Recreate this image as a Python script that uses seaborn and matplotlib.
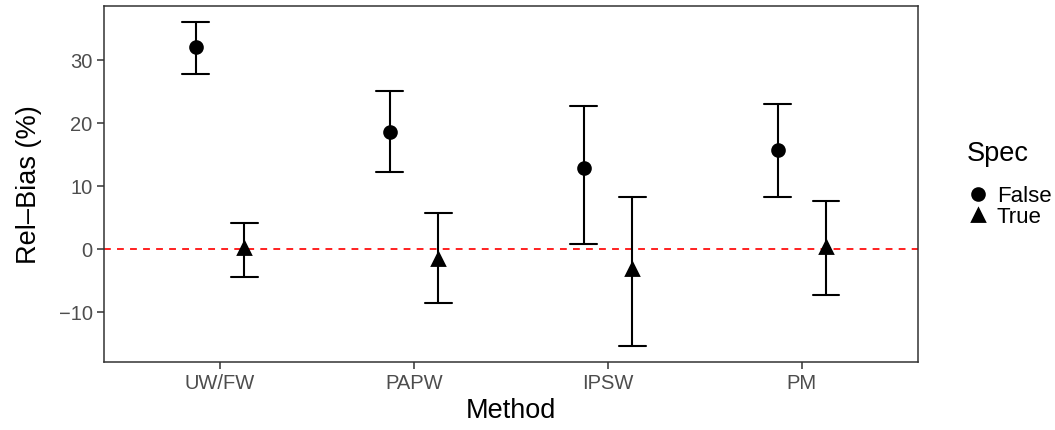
import numpy as np
import pandas as pd
import matplotlib
matplotlib.use("Agg")
import matplotlib.pyplot as plt
import seaborn as sns

methods = ["UW/FW", "PAPW", "IPSW", "PM"]
false_est = [32.0, 18.6, 12.8, 15.7]
false_lo = [27.7, 12.1, 0.8, 8.2]
false_hi = [36.0, 25.0, 22.6, 22.9]
true_est = [0.1, -1.6, -3.3, 0.2]
true_lo = [-4.45, -8.7, -15.5, -7.35]
true_hi = [4.1, 5.7, 8.2, 7.6]
spec_levels = ["False", "True"]

rows = []
for spec, est, lo, hi in [("False", false_est, false_lo, false_hi),
                          ("True", true_est, true_lo, true_hi)]:
    for m, e, l, h in zip(methods, est, lo, hi):
        for v in (l, e, h):
            rows.append({"Method": m, "Spec": spec, "Rel": v})
df = pd.DataFrame(rows)

sns.set_theme(style="white")
plt.rcParams["font.family"] = ["Liberation Sans", "DejaVu Sans"]

fig = plt.figure(figsize=(10.55, 4.31), dpi=100)
ax = fig.add_axes([0.0983, 0.1585, 0.8704 - 0.0983, 0.9845 - 0.1585])

sns.pointplot(data=df, x="Method", y="Rel", hue="Spec", order=methods,
              hue_order=spec_levels, estimator="median", errorbar=("pi", 100),
              dodge=0.25, markers=["o", "^"], linestyles="none",
              palette=["black", "black"], capsize=0.1375,
              err_kws={"linewidth": 1.5, "color": "black"},
              markersize=8.5, ax=ax)

ax.axhline(0, color="#FF2020", linestyle=(0, (3.5, 3.2)), linewidth=1.4, zorder=0)

ax.set_xlim(-0.6, 3.6)
ax.set_ylim(-17.97, 38.6)
ax.set_yticks([-10, 0, 10, 20, 30])
ax.set_yticklabels(["\u221210", "0", "10", "20", "30"])

for s in ax.spines.values():
    s.set_color("#333333")
    s.set_linewidth(1.1)

ax.tick_params(axis="both", which="major", length=5, width=1.1, color="#333333",
               labelsize=14.5, labelcolor="#4D4D4D", bottom=True, left=True, pad=3)
ax.set_xlabel("Method", fontsize=19.5, color="black", labelpad=4)
ax.set_ylabel("Rel\u2013Bias (%)", fontsize=19.5, color="black", labelpad=12)

sns.move_legend(ax, "center left", bbox_to_anchor=(1.035, 0.5), frameon=False,
                title="Spec", fontsize=16, title_fontsize=19.5,
                handletextpad=0.35, labelspacing=0.0, markerscale=1.0,
                handlelength=1.0)
leg = ax.get_legend()
leg._legend_box.align = "left"
leg._legend_box.sep = 14
for t in leg.get_texts():
    t.set_color("black")
leg.get_title().set_color("black")

fig.savefig("out.png", dpi=100)
